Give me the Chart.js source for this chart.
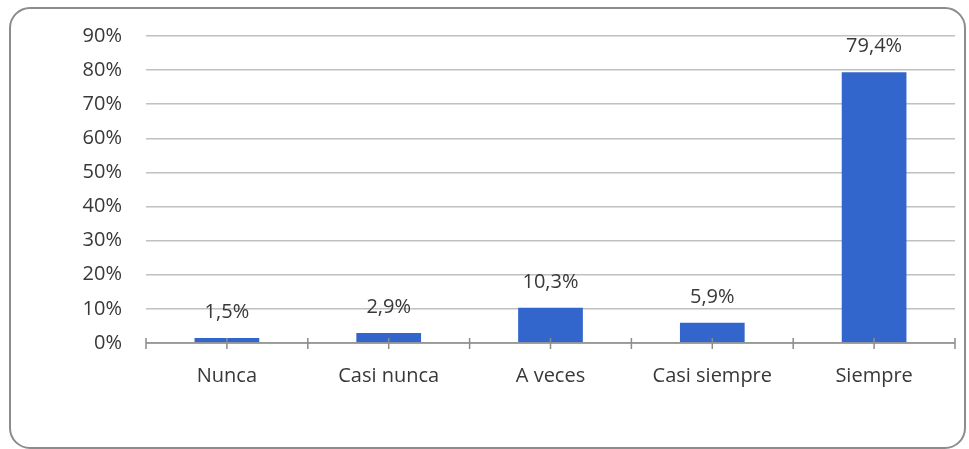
<!DOCTYPE html>
<html>
<head>
<meta charset="utf-8">
<script src="https://cdn.jsdelivr.net/npm/chart.js@4"></script>
<style>
  html, body { margin: 0; padding: 0; background: #fff; }
  #wrap { width: 969px; height: 449px; }
</style>
</head>
<body>
<div id="wrap"><canvas id="Chart" width="969" height="449"></canvas></div>
<script>
const categories = ['Nunca', 'Casi nunca', 'A veces', 'Casi siempre', 'Siempre'];
const values = [1.5, 2.9, 10.3, 5.9, 79.4];
const yTicks = [0, 10, 20, 30, 40, 50, 60, 70, 80, 90];

const FONT = '"Open Sans", sans-serif';
const TEXT = '#383838';

// rounded outer frame
const framePlugin = {
  id: 'frame',
  beforeDraw(chart) {
    const c = chart.ctx;
    c.save();
    c.strokeStyle = '#8c8c8c';
    c.lineWidth = 2;
    c.beginPath();
    c.roundRect(10, 8, 955, 440, 20);
    c.stroke();
    c.restore();
  }
};

// x axis line with tick marks at boundaries and at centers
const axisPlugin = {
  id: 'xaxisTicks',
  afterDatasetsDraw(chart) {
    const c = chart.ctx;
    const x = chart.scales.x;
    const y0 = chart.scales.y.getPixelForValue(0);
    const step = (x.right - x.left) / categories.length;
    c.save();
    c.strokeStyle = '#8c8c8c';
    c.lineWidth = 1.5;
    c.beginPath();
    c.moveTo(x.left, y0);
    c.lineTo(x.right, y0);
    for (let i = 0; i <= categories.length; i++) {
      const px = x.left + i * step;
      c.moveTo(px, y0 - 5);
      c.lineTo(px, y0 + 6);
    }
    categories.forEach((_, i) => {
      const px = x.getPixelForValue(i);
      c.moveTo(px, y0 - 5);
      c.lineTo(px, y0 + 6);
    });
    c.stroke();
    c.restore();
  }
};

// value labels above the bars
const labelPlugin = {
  id: 'barLabels',
  afterDatasetsDraw(chart) {
    const c = chart.ctx;
    const meta = chart.getDatasetMeta(0);
    c.save();
    c.font = '20px ' + FONT;
    c.fillStyle = TEXT;
    c.textAlign = 'center';
    c.textBaseline = 'middle';
    meta.data.forEach((bar, i) => {
      c.fillText(values[i].toFixed(1).replace('.', ',') + '%', bar.x, bar.y - 26);
    });
    c.restore();
  }
};

new Chart(document.getElementById('Chart'), {
  type: 'bar',
  data: {
    labels: categories,
    datasets: [{
      data: values,
      backgroundColor: '#3366cc',
      barPercentage: 0.4,
      categoryPercentage: 1.0
    }]
  },
  options: {
    responsive: false,
    animation: false,
    layout: { padding: { left: 0, right: 14, top: 35, bottom: 0 } },
    plugins: { legend: { display: false }, tooltip: { enabled: false } },
    scales: {
      x: {
        grid: { display: false, drawTicks: false },
        border: { display: false },
        ticks: { color: TEXT, font: { family: FONT, size: 20 }, padding: 21 },
        afterFit(s) { s.height = 106; }
      },
      y: {
        min: 0,
        max: 90,
        afterBuildTicks(s) { s.ticks = yTicks.map(v => ({ value: v })); },
        grid: { color: '#c0c0c0', lineWidth: 1.5, drawTicks: false },
        border: { display: false },
        ticks: {
          color: TEXT,
          font: { family: FONT, size: 20 },
          padding: 24,
          callback: v => v + '%'
        },
        afterFit(s) { s.width = 146; }
      }
    }
  },
  plugins: [framePlugin, axisPlugin, labelPlugin]
});
</script>
</body>
</html>
